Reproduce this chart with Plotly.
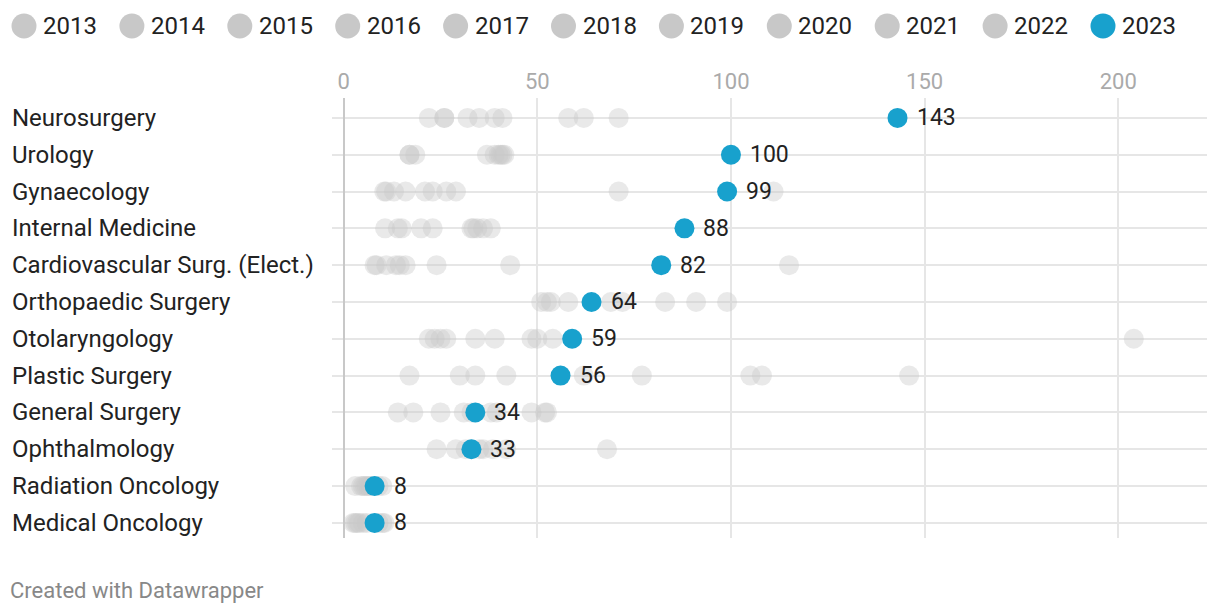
import plotly.graph_objects as go

specialties = ["Neurosurgery", "Urology", "Gynaecology", "Internal Medicine",
               "Cardiovascular Surg. (Elect.)", "Orthopaedic Surgery", "Otolaryngology",
               "Plastic Surgery", "General Surgery", "Ophthalmology",
               "Radiation Oncology", "Medical Oncology"]

years = ["2013", "2014", "2015", "2016", "2017", "2018", "2019", "2020", "2021", "2022", "2023"]

y2013 = [22, 17, 10.5, 10.7, 8, 51, 22, 17, 14, 24, 3, 2.5]
y2014 = [26, 17, 11, 14, 8.5, 52.5, 23.5, 30, 18, 29, 4.5, 3]
y2015 = [26, 18.5, 13, 15, 11, 53.5, 25, 34, 25, 31.5, 5, 3.5]
y2016 = [32, 37, 16, 20, 13.5, 58, 26.5, 42, 31, 33, 5.5, 4]
y2017 = [35, 39, 21, 23, 14.5, 69, 34, 62, 33, 35, 6, 5]
y2018 = [39, 40, 23, 33, 16, 72, 39, 77, 38, 36, 6.5, 6]
y2019 = [41, 40.5, 26.5, 33.5, 24, 83, 48.5, 105, 39.5, 38.5, 7, 9]
y2020 = [58, 41, 29, 34.5, 43, 91, 50, 108, 48.5, 42, 9, 10]
y2021 = [62, 41.5, 71, 36, 115, 99, 54, 146, 52, 68, 10, 10.5]
y2022 = [71, None, 111, 38, None, None, 204, None, 52.5, None, None, None]
y2023 = [143, 100, 99, 88, 82, 64, 59, 56, 34, 33, 8, 8]

past_years = [y2013, y2014, y2015, y2016, y2017, y2018, y2019, y2020, y2021, y2022]

GREY = "#c8c8c8"
BLUE = "#18a1cd"
FONT = "Roboto"

# the page body adds an 8px offset; figure coordinates = screen coordinates - 8
OFF = 8
W, H = 1220 - OFF, 614 - OFF
L, R, T, B = 332 - OFF, 13, 98 - OFF, 76
PW, PH = W - L - R, H - T - B


def px_x(p):
    """screen x (px) -> paper x"""
    return (p - OFF - L) / PW


def px_y(p):
    """screen y (px) -> paper y"""
    return 1 - (p - OFF - T) / PH


fig = go.Figure()

for name, vals in zip(years[:-1], past_years):
    fig.add_trace(go.Scatter(
        x=vals, y=specialties, mode="markers", name=name, showlegend=False,
        marker=dict(size=20, color=GREY, opacity=0.4, line=dict(width=0)),
        hoverinfo="x+name"))

fig.add_trace(go.Scatter(
    x=y2023, y=specialties, mode="markers", name="2023", showlegend=False,
    marker=dict(size=20, color=BLUE, line=dict(width=0)), hoverinfo="x+name"))

# value labels for 2023
for s, v in zip(specialties, y2023):
    fig.add_annotation(x=v, y=s, xref="x", yref="y", text=str(v), showarrow=False,
                       xanchor="left", yanchor="middle", xshift=17,
                       font=dict(family=FONT, size=23, color="#222"))

# left-aligned category labels
for s in specialties:
    fig.add_annotation(x=px_x(10), y=s, xref="paper", yref="y", text=s,
                       showarrow=False, xanchor="left", yanchor="middle",
                       font=dict(family=FONT, size=24, color="#222"))

# legend (manual, top row)
for i, name in enumerate(years):
    cx = 24 + 107.9 * i
    fig.add_shape(type="circle", xref="paper", yref="paper",
                  xsizemode="pixel", ysizemode="pixel",
                  xanchor=px_x(cx), yanchor=px_y(26),
                  x0=-12.5, x1=12.5, y0=-12.5, y1=12.5,
                  fillcolor=BLUE if name == "2023" else GREY, line=dict(width=0))
    fig.add_annotation(x=px_x(cx + 17), y=px_y(26), xref="paper", yref="paper",
                       text=name, showarrow=False, xanchor="left", yanchor="middle",
                       font=dict(family=FONT, size=24, color="#222"))

fig.add_annotation(x=px_x(8), y=px_y(590), xref="paper", yref="paper",
                   text="Created with Datawrapper", showarrow=False,
                   xanchor="left", yanchor="middle",
                   font=dict(family=FONT, size=22, color="#888"))

fig.update_layout(
    width=W, height=H,
    margin=dict(l=L, r=R, t=T, b=B, autoexpand=False),
    paper_bgcolor="white", plot_bgcolor="white",
    font=dict(family=FONT, color="#222"),
    showlegend=False,
    xaxis=dict(range=[-3, 222.9], side="top", tickvals=[0, 50, 100, 150, 200],
               showgrid=True, gridcolor="#e6e6e6", gridwidth=2,
               zeroline=True, zerolinecolor="#c8c8c8", zerolinewidth=2,
               showline=False, ticks="", ticklabelstandoff=4,
               tickfont=dict(family=FONT, size=22, color="#aaa"), fixedrange=True),
    yaxis=dict(type="category", categoryorder="array", categoryarray=specialties,
               range=[11.41, -0.54], showgrid=True, gridcolor="#e6e6e6", gridwidth=2,
               showticklabels=False, zeroline=False, showline=False, ticks="",
               fixedrange=True),
    hovermode="closest",
)

fig.write_html("out.html")
